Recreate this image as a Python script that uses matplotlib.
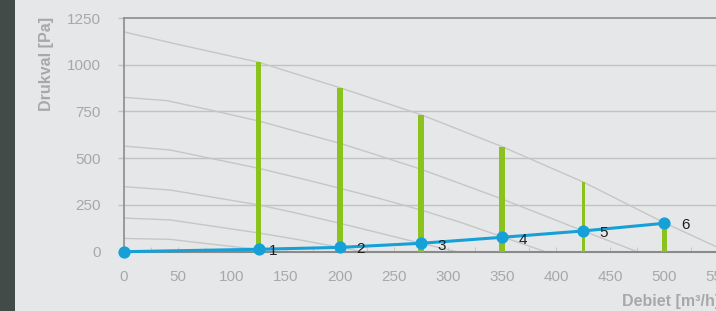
import matplotlib
matplotlib.use("Agg")
import matplotlib.pyplot as plt
from matplotlib.patches import Rectangle

plt.rcParams['font.family'] = ['Liberation Sans', 'DejaVu Sans']

# ---- data ----
x_ticks = [0, 50, 100, 150, 200, 250, 300, 350, 400, 450, 500, 550]
y_ticks = [0, 250, 500, 750, 1000, 1250]

# fan curves (flow m3/h, pressure Pa)
curve_a_q = [0, 50, 125, 200, 275, 350, 425, 500, 548, 558]
curve_a_p = [1176, 1109, 1013, 877, 733, 562, 373, 155, 27, 0]
curve_b_q = [0, 40, 80, 125, 172, 200, 237, 275, 311, 350, 425, 475]
curve_b_p = [826, 808, 758, 699, 624, 580, 512, 441, 365, 282, 111, 0]
curve_c_q = [0, 43, 125, 172, 200, 237, 275, 311, 350, 390]
curve_c_p = [565, 544, 446, 380, 339, 284, 223, 158, 80, 0]
curve_d_q = [0, 43, 125, 154, 200, 275, 308]
curve_d_p = [348, 330, 250, 214, 152, 45, 0]
curve_e_q = [0, 43, 125, 163, 200, 221]
curve_e_p = [180, 170, 100, 63, 23, 0]
curve_f_q = [0, 43, 74, 125, 142]
curve_f_p = [71, 66, 45, 12, 0]

# green bars (max pressure per setting)
bar_q = [125, 200, 275, 350, 425, 500]
bar_p = [1013, 877, 733, 562, 373, 150]

# blue system curve with operating points
sys_q = [0, 125, 200, 275, 350, 425, 500]
sys_p = [0, 13, 23, 45, 77, 111, 152]
point_labels = ['1', '2', '3', '4', '5', '6']

# ---- style ----
W, H = 716, 311
bg = '#e6e7e8'
grey_txt = '#a8a8a8'
grid_c = '#c2c2c2'
spine_c = '#8c8c8c'
curve_c = '#c6c6c6'
green = '#8cc21e'
blue = '#16a0d8'

fig = plt.figure(figsize=(W / 100, H / 100), dpi=100, facecolor=bg)
fig.patches.append(Rectangle((0, 0), 15 / W, 1, transform=fig.transFigure,
                             facecolor='#434b48', edgecolor='none', zorder=0))

x0, x1 = 123.7, 718.3
y0, y1 = 251.7, 18.0
ax = fig.add_axes([x0 / W, (H - y0) / H, (x1 - x0) / W, (y0 - y1) / H])
ax.set_facecolor(bg)
ax.set_xlim(0, 550)
ax.set_ylim(0, 1250)

ax.spines['right'].set_visible(False)
ax.spines['top'].set_color(spine_c)
ax.spines['top'].set_linewidth(1.2)
ax.spines['left'].set_color(spine_c)
ax.spines['left'].set_linewidth(1.2)
ax.spines['bottom'].set_color('#8a8a8a')
ax.spines['bottom'].set_linewidth(1.5)

for v in y_ticks[1:-1]:
    ax.axhline(v, color=grid_c, lw=1.0, zorder=1)

ax.set_yticks(y_ticks)
ax.set_xticks(x_ticks)
ax.set_xticks([25, 75, 125, 175, 225, 275, 325, 375, 425, 475, 525], minor=True)
ax.tick_params(axis='y', direction='out', length=4.5, width=1, color=grid_c,
               labelsize=11, labelcolor=grey_txt, pad=12)
ax.tick_params(axis='x', which='both', direction='in', length=3.5, width=0.8,
               color='#c8c8c8', labelsize=11, labelcolor=grey_txt, pad=13)

fan = [(curve_a_q, curve_a_p), (curve_b_q, curve_b_p), (curve_c_q, curve_c_p),
       (curve_d_q, curve_d_p), (curve_e_q, curve_e_p), (curve_f_q, curve_f_p)]
for q, p in fan:
    ax.plot(q, p, color=curve_c, lw=1.0, zorder=2)

bar_w = [4.8, 4.8, 4.8, 4.8, 2.6, 4.8]
ax.bar(bar_q, bar_p, width=bar_w, color=green, zorder=3)

ax.plot(sys_q, sys_p, color=blue, lw=2.2, marker='o', markersize=8.8,
        markeredgewidth=0, zorder=4, clip_on=False)

offsets = [(10, -1), (15, -1.5), (15, -2), (15, -2), (15, -1.5), (15, -1)]
for q, p, lab, off in zip(sys_q[1:], sys_p[1:], point_labels, offsets):
    ax.annotate(lab, (q, p), xytext=off, textcoords='offset points',
                ha='center', va='center', fontsize=11, color='#1e1e1e', zorder=5)

fig.text(47 / W, 1 - 64 / H, 'Drukval [Pa]', rotation=90, ha='center', va='center',
         fontsize=11.5, fontweight='bold', color=grey_txt)
fig.text(621.7 / W, 1 - 301.7 / H, 'Debiet [m³/h]', ha='left', va='center',
         fontsize=11.5, fontweight='bold', color=grey_txt)

fig.savefig('out.png', dpi=100, facecolor=bg)
